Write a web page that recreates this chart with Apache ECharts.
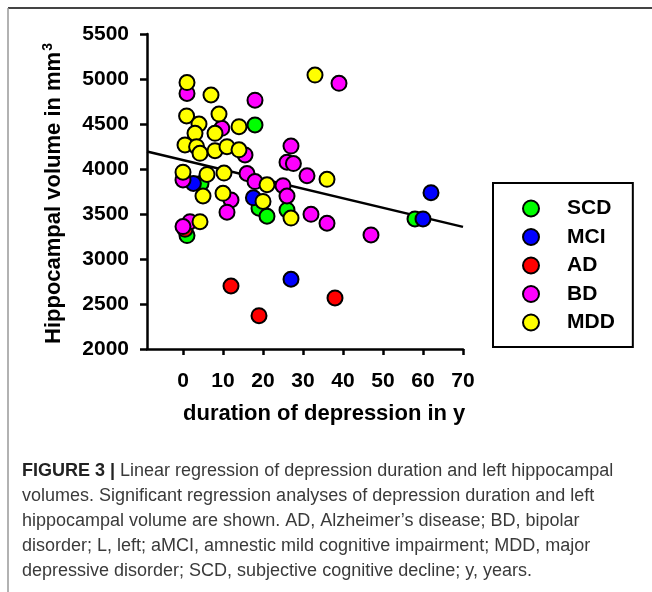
<!DOCTYPE html>
<html>
<head>
<meta charset="utf-8">
<script src="https://cdn.jsdelivr.net/npm/echarts@6/dist/echarts.min.js"></script>
<style>
  html, body { margin: 0; padding: 0; background: #fff; }
  #chart { width: 652px; height: 592px; }
</style>
</head>
<body>
<div id="chart"></div>
<script>
// Group names and marker colours
const groups = ['SCD', 'MCI', 'AD', 'BD', 'MDD'];
const groupColors = ['#00ff00', '#0000ff', '#ff0000', '#ff00ff', '#ffff00'];

// [duration of depression (y), left hippocampal volume (mm³)]
const scdData = [[1, 3260], [4.5, 3840], [18, 4490], [19, 3565], [21, 3475], [26, 3545], [58, 3445]];
const mciData = [[2.6, 3840], [17.6, 3680], [27, 2775], [60, 3445], [62, 3737]];
const adData  = [[0.5, 3330], [12, 2700], [19, 2370], [38, 2567]];
const bdData  = [[1, 4840], [18, 4765], [39, 4952], [27, 4255], [26, 4075], [27.6, 4060],
                 [31, 3925], [25, 3815], [26, 3700], [32, 3496], [36, 3397], [47, 3267],
                 [0, 3878], [16, 3950], [18, 3860], [15.5, 4156], [9.7, 4452], [12, 3656],
                 [11, 3520], [1.75, 3415], [0, 3360]];
const mddData = [[1, 4960], [7, 4822], [33, 5044], [0.9, 4590], [9, 4610], [4, 4500],
                 [14, 4470], [3, 4396], [8, 4396], [0.5, 4267], [3.4, 4248], [4.25, 4174],
                 [8, 4204], [11, 4248], [14, 4213], [0, 3965], [6, 3940], [10.25, 3955],
                 [21, 3825], [36, 3885], [5, 3700], [10, 3730], [20, 3640], [27, 3455],
                 [4.25, 3415]];

// Linear fit: volume = intercept + slope * duration
const fitIntercept = 4099;
const fitSlope = -10.6;

// Axis ranges and ticks
const xMin = -9, xMax = 70;
const xTicks = [0, 10, 20, 30, 40, 50, 60, 70];
const yMin = 2000, yMax = 5500, yStep = 500;

// Caption lines
const captionBold = 'FIGURE 3 | ';
const captionLines = [
  'Linear regression of depression duration and left hippocampal',
  'volumes. Significant regression analyses of depression duration and left',
  'hippocampal volume are shown. AD, Alzheimer\u2019s disease; BD, bipolar',
  'disorder; L, left; aMCI, amnestic mild cognitive impairment; MDD, major',
  'depressive disorder; SCD, subjective cognitive decline; y, years.'
];

const seriesData = [scdData, mciData, adData, bdData, mddData];
const fitData = [xMin, xMax].map(d => [d, fitIntercept + fitSlope * d]);

const chart = echarts.init(document.getElementById('chart'), null, { renderer: 'canvas' });

const FONT = 'Liberation Sans, Arial, sans-serif';
const tickFont = { fontFamily: FONT, fontWeight: 'bold', fontSize: 21, color: '#000' };

const captionGraphics = captionLines.map((line, i) => ({
  type: 'text',
  left: 22,
  top: 462 + i * 25,
  style: i === 0 ? {
    text: '{b|' + captionBold + '}{r|' + line + '}',
    rich: {
      b: { fontFamily: FONT, fontWeight: 'bold', fontSize: 18, fill: '#222' },
      r: { fontFamily: FONT, fontSize: 18, fill: '#3a3a3a' }
    }
  } : {
    text: line,
    fontFamily: FONT,
    fontSize: 18,
    fill: '#3a3a3a'
  }
}));

chart.setOption({
  animation: false,
  backgroundColor: '#fff',
  grid: { left: 147, right: 189, top: 34, bottom: 243, containLabel: false },
  xAxis: {
    type: 'value',
    min: xMin,
    max: xMax,
    axisLine: { show: true, onZero: false, lineStyle: { color: '#000', width: 2.5 } },
    axisTick: { show: true, length: 6, customValues: xTicks, lineStyle: { color: '#000', width: 2.5 } },
    axisLabel: Object.assign({ margin: 22, customValues: xTicks }, tickFont),
    splitLine: { show: false }
  },
  yAxis: {
    type: 'value',
    min: yMin,
    max: yMax,
    interval: yStep,
    axisLine: { show: true, onZero: false, lineStyle: { color: '#000', width: 2.5 } },
    axisTick: { show: true, length: 7, lineStyle: { color: '#000', width: 2.5 } },
    axisLabel: Object.assign({ margin: 18, formatter: v => String(v) }, tickFont),
    splitLine: { show: false }
  },
  legend: {
    orient: 'vertical',
    left: 493,
    top: 183,
    data: groups,
    icon: 'circle',
    itemWidth: 16,
    itemHeight: 16,
    itemGap: 7.5,
    padding: [15, 18, 14, 29],
    borderColor: '#000',
    borderWidth: 2,
    borderRadius: 0,
    textStyle: Object.assign({ padding: [0, 0, 0, 23] }, tickFont)
  },
  graphic: [
    { type: 'line', shape: { x1: 8, y1: 8, x2: 652, y2: 8 }, style: { stroke: '#444', lineWidth: 2 } },
    { type: 'line', shape: { x1: 8, y1: 8, x2: 8, y2: 592 }, style: { stroke: '#999', lineWidth: 1.5 } },
    {
      type: 'text', left: 183, top: 403,
      style: { text: 'duration of depression in y', fontFamily: FONT, fontWeight: 'bold', fontSize: 22, fill: '#000' }
    },
    {
      type: 'text', x: 41, y: 344, rotation: Math.PI / 2,
      style: {
        text: '{n|Hippocampal volume in mm}{s|3}',
        rich: {
          n: { fontFamily: FONT, fontWeight: 'bold', fontSize: 22, fill: '#000' },
          s: { fontFamily: FONT, fontWeight: 'bold', fontSize: 14, fill: '#000', verticalAlign: 'top', padding: [0, 0, 11, 1] }
        }
      }
    }
  ].concat(captionGraphics),
  series: [{
    type: 'line',
    data: fitData,
    symbol: 'none',
    silent: true,
    z: 1,
    lineStyle: { color: '#000', width: 2.5 }
  }].concat(groups.map((g, i) => ({
    name: g,
    type: 'scatter',
    data: seriesData[i],
    symbol: 'circle',
    symbolSize: 15,
    z: 2 + i,
    itemStyle: { color: groupColors[i], borderColor: '#000', borderWidth: 2, opacity: 1 }
  })))
});
</script>
</body>
</html>
